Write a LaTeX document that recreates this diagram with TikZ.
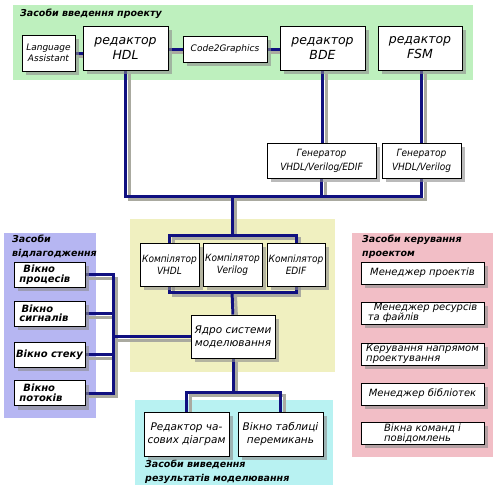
\documentclass[tikz,border=0pt]{standalone}
\usepackage{fontspec}
\setmainfont{DejaVu Sans}
\newfontfamily\condf{DejaVu Sans Condensed}
\usetikzlibrary{shadows}
\definecolor{pgreen}{RGB}{190,240,190}
\definecolor{pyellow}{RGB}{240,240,192}
\definecolor{pviolet}{RGB}{182,182,242}
\definecolor{pcyan}{RGB}{184,242,242}
\definecolor{ppink}{RGB}{242,190,198}
\definecolor{navy}{RGB}{16,16,128}
\definecolor{wshade}{RGB}{170,170,160}
\pgfdeclarelayer{panel}
\pgfdeclarelayer{wshadow}
\pgfdeclarelayer{wirelayer}
\pgfsetlayers{panel,wshadow,wirelayer,main}
\newcommand{\allwires}[1]{%
  \draw[#1] (LA.east) -- (LA.east -| HDL.west);
  \draw[#1] (C2G.west) -- (C2G.west -| HDL.east);
  \draw[#1] (C2G.east) -- (C2G.east -| BDE.west);
  \draw[#1] (BDE.south) -- (BDE.south |- G1.north);
  \draw[#1] (G2.north |- FSM.south) -- (G2.north);
  \draw[#1] (HDL.south) -- (HDL.south |- bus) -- (G2.south |- bus) -- (G2.south);
  \draw[#1] (G1.south) -- (G1.south |- bus);
  \draw[#1] (bus) -- (ctop);
  \draw[#1] (CV.center |- ctop) -- (CE.center |- ctop) -- (CE.center |- cbot) -- (CV.center |- cbot) -- cycle;
  \draw[#1] (cbot) -- (K.north);
  \draw[#1] (K.west) -- (K.west -| dbus);
  \draw[#1] (D1.east) -- (D1.east -| dbus) -- (D4.east -| dbus) -- (D4.east);
  \draw[#1] (D2.east) -- (D2.east -| dbus);
  \draw[#1] (D3.east) -- (D3.east -| dbus);
  \draw[#1] (K.south) -- (obus);
  \draw[#1] (O1.north) -- (O1.north |- obus) -- (O2.north |- obus) -- (O2.north);
}
\tikzset{
  box/.style={draw=black, fill=white, line width=0.7pt, align=center, inner sep=1pt,
    font=\fontsize{9}{10.5}\itshape, drop shadow={shadow xshift=4pt, shadow yshift=-4pt, fill=black!45, opacity=0.6}},
  bigbox/.style={box, font=\fontsize{12.5}{15}\itshape},
  genbox/.style={box, font=\condf\fontsize{10}{14}\itshape},
  compbox/.style={box, font=\condf\fontsize{10}{12}\itshape},
  dbgbox/.style={box, minimum width=71, minimum height=25, text width=60, align=left, font=\fontsize{10}{9.5}\bfseries\itshape},
  outbox/.style={box, minimum width=85, minimum height=44, font=\fontsize{10.5}{13}\itshape},
  pinkbox/.style={box, minimum width=123, minimum height=22, font=\fontsize{10}{10}\itshape},
  title/.style={anchor=north west, align=left, inner sep=0pt, font=\fontsize{9.5}{13.5}\bfseries\itshape},
  wire/.style={draw=navy, line width=3pt},
  wireshadow/.style={draw=wshade, line width=3pt, transform canvas={shift={(3.5pt,-3.5pt)}}},
}
\begin{document}
\begin{tikzpicture}[x=1pt,y=-1pt]
\useasboundingbox (0,0) rectangle (500,491);
% panels
\begin{pgfonlayer}{panel}
\fill[pgreen] (13,5) rectangle (473,80);
\fill[pyellow] (130,219) rectangle (335,372);
\fill[pviolet] (4,233) rectangle (96,418);
\fill[pcyan] (135,400) rectangle (333,485);
\fill[ppink] (352,233) rectangle (493,457);
\end{pgfonlayer}
% titles
\node[title] (t1) at (20,9) {Засоби введення проекту};
\node[title] (t2) at (12,235) {Засоби\\відлагодження};
\node[title] (t3) at (362,235) {Засоби керування\\проектом};
\node[title] (t4) at (145,460) {Засоби виведення\\результатів моделювання};
% input boxes
\node[box, minimum width=53, minimum height=36] (LA) at (48.5,53) {Language\\Assistant};
\node[bigbox, minimum width=85, minimum height=44] (HDL) at (125.5,48) {редактор\\HDL};
\node[box, minimum width=84, minimum height=26] (C2G) at (225,49) {Code2Graphics};
\node[bigbox, minimum width=85, minimum height=44] (BDE) at (322.5,48) {редактор\\BDE};
\node[bigbox, minimum width=84, minimum height=44] (FSM) at (420,48) {редактор\\FSM};
\node[genbox, minimum width=109, minimum height=35] (G1) at (321.5,160.5) {Генератор\\VHDL/Verilog/EDIF};
\node[genbox, minimum width=79, minimum height=35] (G2) at (421.5,160.5) {Генератор\\VHDL/Verilog};
% compilers
\node[compbox, minimum width=59, minimum height=43] (CV) at (169.5,264.5) {Компілятор\\VHDL};
\node[compbox, minimum width=59, minimum height=43] (CR) at (232.5,264.5) {Компілятор\\Verilog};
\node[compbox, minimum width=58, minimum height=43] (CE) at (296,264.5) {Компілятор\\EDIF};
\node[box, font=\fontsize{10.5}{13}\itshape, minimum width=84, minimum height=43] (K) at (233,336.5) {Ядро системи\\моделювання};
% debug
\node[dbgbox] (D1) at (49.5,274.5) {\hspace*{4pt}Вікно\\процесів};
\node[dbgbox] (D2) at (49.5,313.5) {\hspace*{2pt}Вікно\\сигналів};
\node[dbgbox, text width=68, align=center] (D3) at (49.5,354.5) {Вікно стеку};
\node[dbgbox] (D4) at (49.5,393) {\hspace*{4pt}Вікно\\потоків};
% output
\node[outbox] (O1) at (186.5,434) {Редактор ча-\\сових діаграм};
\node[outbox] (O2) at (280.5,434) {Вікно таблиці\\перемикань};
% management
\node[pinkbox] (M1) at (422.5,273) {Менеджер проектів};
\node[pinkbox, align=left] (M2) at (422.5,313) {\hspace*{6pt}Менеджер ресурсів\\та файлів};
\node[pinkbox, align=left] (M3) at (422.5,354) {Керування напрямом\\проектування};
\node[pinkbox] (M4) at (422.5,394) {Менеджер бібліотек};
\node[pinkbox, align=left] (M5) at (422.5,433) {Вікна команд і\\повідомлень};
% bus coordinates
\coordinate (bus) at (232,196);
\coordinate (ctop) at (232,235);
\coordinate (cbot) at (232,292);
\coordinate (dbus) at (113,336.5);
\coordinate (obus) at (233,392);
\begin{pgfonlayer}{wshadow}
\allwires{wireshadow}
\end{pgfonlayer}
\begin{pgfonlayer}{wirelayer}
\allwires{wire}
\end{pgfonlayer}
\end{tikzpicture}
\end{document}
